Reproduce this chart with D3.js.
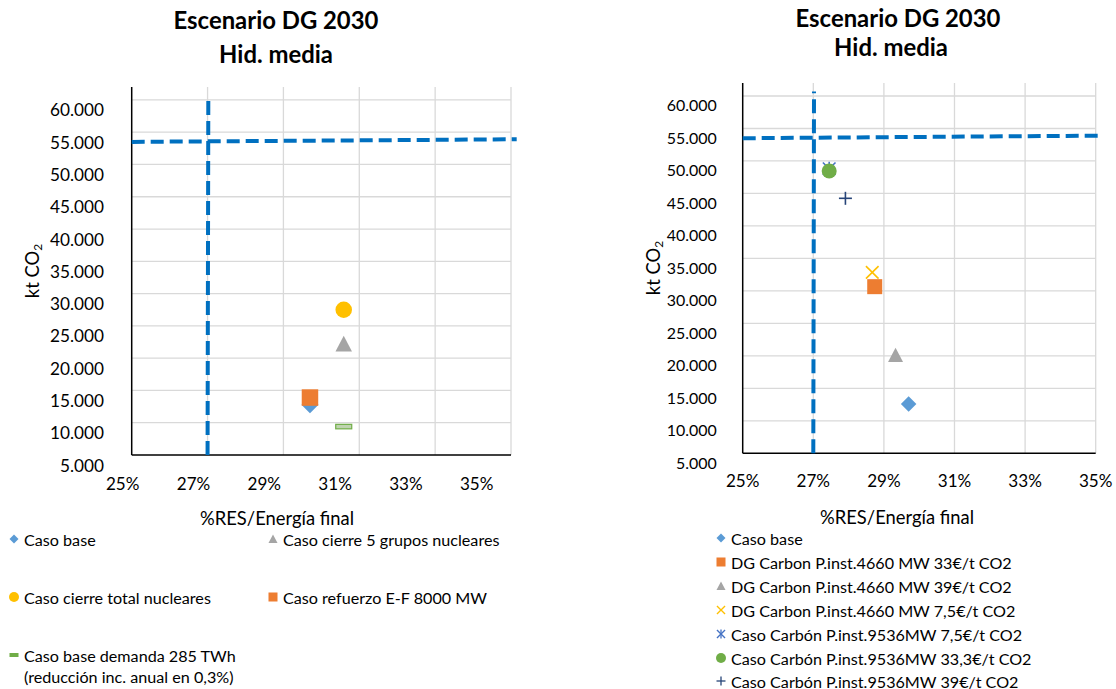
<!DOCTYPE html>
<html><head><meta charset="utf-8">
<script src="https://cdn.jsdelivr.net/npm/d3@7"></script>
<style>
body{margin:0;background:#fff}
svg{display:block}
text{font-family:Lato,"Open Sans","Noto Sans",sans-serif;fill:#000}
</style>
</head><body>
<svg id="c" width="1116" height="689"></svg>
<script>
// ---------------- DATA ----------------
const titleLines = ["Escenario DG 2030", "Hid. media"];
const xAxisTitle = "%RES/Energía final";
const xTicks = [0.25, 0.27, 0.29, 0.31, 0.33, 0.35];
const yTicks = [5000, 10000, 15000, 20000, 25000, 30000, 35000, 40000, 45000, 50000, 55000, 60000];
const xDomain = [0.25, 0.35];
const yDomain = [5000, 62000];

// reference dashed lines (objective RES and CO2 limit)
const resLineX = [0.27, 0.2702];
const resLineY = [5000, 60700];
const co2LineX = [0.25, 0.3515];
const co2LineY = [53500, 53900];

// left chart series
const leftNames = ["Caso base", "Caso cierre 5 grupos nucleares", "Caso cierre total nucleares",
  "Caso refuerzo E-F 8000 MW", "Caso base demanda 285 TWh\n(reducción inc. anual en 0,3%)"];
const leftX = [0.2970, 0.3059, 0.3059, 0.2970, 0.3059];
const leftY = [12800, 22200, 27500, 13900, 9400];

// right chart series
const rightNames = ["Caso base", "DG Carbon P.inst.4660 MW 33€/t CO2", "DG Carbon P.inst.4660 MW 39€/t CO2",
  "DG Carbon P.inst.4660 MW 7,5€/t CO2", "Caso Carbón P.inst.9536MW 7,5€/t CO2",
  "Caso Carbón P.inst.9536MW 33,3€/t CO2", "Caso Carbón P.inst.9536MW 39€/t CO2"];
const rightX = [0.2970, 0.2874, 0.2933, 0.2867, 0.2745, 0.2745, 0.2791];
const rightY = [12600, 30650, 20100, 32850, 48800, 48450, 44250];

// ---------------- STYLES ----------------
const leftMarkers = ["diamond", "triangle", "circle", "square", "dash"];
const leftColors = ["#5B9BD5", "#A5A5A5", "#FFC000", "#ED7D31", "#70AD47"];
const rightMarkers = ["diamond", "square", "triangle", "x", "star", "circle", "plus"];
const rightColors = ["#5B9BD5", "#ED7D31", "#A5A5A5", "#FFC000", "#4472C4", "#70AD47", "#264478"];
const lineColor = "#0070C0";

const svg = d3.select("#c");
svg.append("rect").attr("width", 1116).attr("height", 689).attr("fill", "#fff");

function fit(text, weight, target) {
  const t = svg.append("text").attr("font-size", 100).attr("font-weight", weight).text(text);
  const w = t.node().getComputedTextLength();
  t.remove();
  return 100 * target / w;
}
const titleSize = fit("Escenario DG 2030", "bold", 205);
const axisTitleSize = fit(xAxisTitle, "normal", 154);
const xTickSize = fit("25%", "normal", 33.5);
const legendSize = fit("DG Carbon P.inst.4660 MW 33€/t CO2", "normal", 281);

const loc = d3.formatLocale({decimal: ",", thousands: ".", grouping: [3], currency: ["", "€"]});
const fmtY = loc.format(",.0f");
const fmtX = d3.format(".0%");

function marker(g, type, cx, cy, s, color) {
  const h = s / 2;
  if (type === "diamond") {
    g.append("path").attr("d", `M${cx},${cy - h}L${cx + h},${cy}L${cx},${cy + h}L${cx - h},${cy}Z`).attr("fill", color);
  } else if (type === "square") {
    g.append("rect").attr("x", cx - h).attr("y", cy - h).attr("width", s).attr("height", s).attr("fill", color);
  } else if (type === "triangle") {
    g.append("path").attr("d", `M${cx},${cy - h}L${cx + h},${cy + h * 0.9}L${cx - h},${cy + h * 0.9}Z`).attr("fill", color);
  } else if (type === "circle") {
    g.append("circle").attr("cx", cx).attr("cy", cy).attr("r", h).attr("fill", color);
  } else if (type === "dash") {
    const hh = Math.max(2, s * 0.14);
    g.append("rect").attr("x", cx - h).attr("y", cy - hh).attr("width", s).attr("height", hh * 2)
      .attr("fill", s > 10 ? "#BFD3B0" : color).attr("stroke", color).attr("stroke-width", s > 10 ? 1.2 : 0);
  } else if (type === "x" || type === "star" || type === "plus") {
    const p = g.append("g").attr("stroke", color).attr("stroke-width", s > 10 ? 1.6 : 1.3).attr("fill", "none");
    const k = h * 0.9;
    if (type !== "plus") {
      p.append("line").attr("x1", cx - k).attr("y1", cy - k).attr("x2", cx + k).attr("y2", cy + k);
      p.append("line").attr("x1", cx - k).attr("y1", cy + k).attr("x2", cx + k).attr("y2", cy - k);
    }
    if (type === "star" || type === "plus") {
      p.append("line").attr("x1", cx).attr("y1", cy - h).attr("x2", cx).attr("y2", cy + h);
    }
    if (type === "plus") {
      p.append("line").attr("x1", cx - h).attr("y1", cy).attr("x2", cx + h).attr("y2", cy);
    }
  }
}

function chart(cfg, names, xs, ys, markers, colors) {
  const g = svg.append("g");
  const x = d3.scaleLinear().domain(xDomain).range([cfg.x0, cfg.x1]);
  const y = d3.scaleLinear().domain(yDomain).range([cfg.yBottom, cfg.yTop]);
  // label scales (labels sit slightly offset from grid in the original)
  const xLab = d3.scaleLinear().domain(xDomain).range([cfg.xLab0, cfg.xLab1]);
  const yLab = d3.scaleLinear().domain(yDomain).range([cfg.yBottom + cfg.yLabOff, cfg.yTop + cfg.yLabOff]);

  // gridlines
  g.append("g").selectAll("line").data(yTicks.filter(d => d > yDomain[0])).join("line")
    .attr("x1", cfg.x0).attr("x2", cfg.x1).attr("y1", d => y(d)).attr("y2", d => y(d))
    .attr("stroke", "#D9D9D9").attr("stroke-width", 1.3);
  g.append("g").selectAll("line").data(xTicks.filter(d => d > xDomain[0])).join("line")
    .attr("x1", d => x(d)).attr("x2", d => x(d)).attr("y1", cfg.yTop).attr("y2", cfg.yBottom)
    .attr("stroke", "#D9D9D9").attr("stroke-width", 1.3);
  // axes lines
  g.append("line").attr("x1", cfg.x0).attr("x2", cfg.x0).attr("y1", cfg.yTop).attr("y2", cfg.yBottom)
    .attr("stroke", "#000").attr("stroke-width", 1.5);
  g.append("line").attr("x1", cfg.x0).attr("x2", cfg.x1).attr("y1", cfg.yBottom).attr("y2", cfg.yBottom)
    .attr("stroke", "#000").attr("stroke-width", 1.5);

  // tick labels
  const yTickSize = fit("60.000", "normal", cfg.yTickW);
  g.append("g").selectAll("text").data(yTicks).join("text")
    .attr("x", cfg.yLabRight).attr("y", d => yLab(d)).attr("text-anchor", "end")
    .attr("dominant-baseline", "central").attr("font-size", yTickSize).text(fmtY);
  g.append("g").selectAll("text").data(xTicks).join("text")
    .attr("x", d => xLab(d)).attr("y", cfg.xLabY).attr("text-anchor", "middle")
    .attr("dominant-baseline", "central").attr("font-size", xTickSize).text(fmtX);

  // titles
  titleLines.forEach((t, i) => {
    g.append("text").attr("x", cfg.title[i][0]).attr("y", cfg.title[i][1]).attr("text-anchor", "middle")
      .attr("font-weight", "bold").attr("font-size", titleSize).text(t);
  });
  g.append("text").attr("x", cfg.xTitle[0]).attr("y", cfg.xTitle[1]).attr("text-anchor", "middle")
    .attr("dominant-baseline", "central").attr("font-size", axisTitleSize).text(xAxisTitle);
  const yt = g.append("text").attr("transform", `translate(${cfg.yTitle[0]},${cfg.yTitle[1]}) rotate(-90)`)
    .attr("text-anchor", "middle").attr("dominant-baseline", "central").attr("font-size", axisTitleSize);
  yt.append("tspan").text("kt CO");
  yt.append("tspan").attr("font-size", axisTitleSize * 0.65).attr("dy", axisTitleSize * 0.28).text("2");

  // dashed reference lines
  const line = d3.line().x(d => x(d[0])).y(d => y(d[1]));
  g.append("path").attr("d", line(d3.zip(resLineX, resLineY))).attr("fill", "none")
    .attr("stroke", lineColor).attr("stroke-width", 4).attr("stroke-dasharray", "14,6");
  g.append("path").attr("d", line(d3.zip(co2LineX, co2LineY))).attr("fill", "none")
    .attr("stroke", lineColor).attr("stroke-width", 4).attr("stroke-dasharray", "13,6");

  // points
  names.forEach((n, i) => {
    marker(g, markers[i], x(xs[i]), y(ys[i]), cfg.markSize[i], colors[i]);
  });

  // legend
  const lg = g.append("g");
  if (cfg.clip) {
    svg.append("clipPath").attr("id", cfg.clip.id).append("rect")
      .attr("x", 0).attr("y", 0).attr("width", cfg.clip.w).attr("height", 689);
    lg.attr("clip-path", `url(#${cfg.clip.id})`);
  }
  names.forEach((n, i) => {
    const [mx, my] = cfg.legPos[i];
    marker(lg, markers[i], mx, my, markers[i] === "dash" ? 9 : (markers[i] === "circle" ? 10 : 9), colors[i]);
    const t = lg.append("text").attr("x", mx + 10).attr("y", my).attr("dominant-baseline", "central")
      .attr("font-size", legendSize);
    n.split("\n").forEach((s, j) => {
      t.append("tspan").attr("x", mx + 10).attr("dy", j === 0 ? 0 : 21).text(s);
    });
  });
}

chart({
  x0: 131.7, x1: 511, yBottom: 455, yTop: 87, yLabRight: 104, yLabOff: 10, yTickW: 54,
  xLab0: 122.7, xLab1: 476.7, xLabY: 483,
  title: [[276, 29], [276, 63]], xTitle: [277, 518], yTitle: [32, 271],
  markSize: [17, 16.5, 16.5, 16.5, 16],
  legPos: [[14, 539], [273, 539], [14, 597], [273, 597], [14, 655]],
  clip: {id: "clipL", w: 502}
}, leftNames, leftX, leftY, leftMarkers, leftColors);

chart({
  x0: 742.7, x1: 1095.7, yBottom: 453.3, yTop: 83, yLabRight: 716.7, yLabOff: 9, yTickW: 50,
  xLab0: 742.7, xLab1: 1095.7, xLabY: 480,
  title: [[898, 27], [891, 56]], xTitle: [897, 517], yTitle: [653, 268],
  markSize: [15.5, 15, 15, 14, 14, 15, 13],
  legPos: [[721, 538], [721, 562], [721, 586], [721, 610], [721, 634], [721, 658], [721, 681]],
  clip: null
}, rightNames, rightX, rightY, rightMarkers, rightColors);
</script>
</body></html>
